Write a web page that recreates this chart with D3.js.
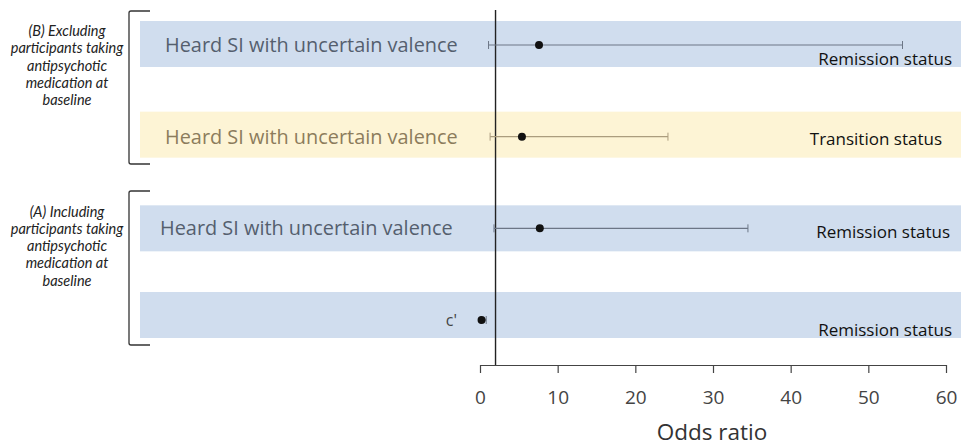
<!DOCTYPE html>
<html><head><meta charset="utf-8">
<script src="https://cdn.jsdelivr.net/npm/d3@7"></script>
<style>
html,body{margin:0;padding:0;background:#fff;}
svg{display:block;}
</style></head>
<body>
<svg id="chart" width="961" height="448"></svg>
<script>
// ---- data ----
const rowLabels = ["Heard SI with uncertain valence", "Heard SI with uncertain valence", "Heard SI with uncertain valence", "c'"];
const statusLabels = ["Remission status", "Transition status", "Remission status", "Remission status"];
const bandTypes = ["blue", "yellow", "blue", "blue"];
const oddsRatio = [7.6, 5.4, 7.7, 0.2];
const ciLower = [1.1, 1.3, 1.8, 0.1];
const ciUpper = [54.4, 24.2, 34.5, 0.8];
const groupLabels = [
  ["(B) Excluding", "participants taking", "antipsychotic", "medication at", "baseline"],
  ["(A) Including", "participants taking", "antipsychotic", "medication at", "baseline"]
];
const xTicks = [0, 10, 20, 30, 40, 50, 60];
const referenceValue = 2;
const axisTitle = "Odds ratio";

// ---- layout / style ----
const W = 961, H = 448;
const svg = d3.select("#chart");
const x = d3.scaleLinear().domain([0, 60]).range([480, 946]);
const y = d3.scalePoint().domain(d3.range(rowLabels.length)).range([45, 320]);
const bandHalf = 23;
const bandFill = {blue: "#d0ddee", yellow: "#fdf4d5"};
const labelFill = {blue: "#555f6e", yellow: "#8c7c5c"};
const ciStroke = {blue: "#6c7686", yellow: "#ab9d7e"};
const labelX = [165, 165, 160, 457];
const statusDy = [14, 2, 4, 10];
const statusX = [952, 942, 950, 952];
const bandDy = [-1, -2, 0, -5];

const mainFont = "'Open Sans', 'Noto Sans', sans-serif";

// bands
svg.append("g").selectAll("rect").data(rowLabels).join("rect")
  .attr("x", 140).attr("width", W - 140)
  .attr("y", (d, i) => y(i) - bandHalf + bandDy[i])
  .attr("height", bandHalf * 2)
  .attr("fill", (d, i) => bandFill[bandTypes[i]]);

// row labels
svg.append("g").selectAll("text").data(rowLabels).join("text")
  .attr("x", (d, i) => labelX[i])
  .attr("y", (d, i) => y(i))
  .attr("dy", "0.35em")
  .attr("text-anchor", (d, i) => i === 3 ? "end" : "start")
  .attr("font-family", mainFont)
  .attr("font-size", (d, i) => i === 3 ? 16 : 19.9)
  .attr("fill", (d, i) => i === 3 ? "#444" : labelFill[bandTypes[i]])
  .text(d => d);

// status labels
svg.append("g").selectAll("text").data(statusLabels).join("text")
  .attr("x", (d, i) => statusX[i])
  .attr("y", (d, i) => y(i) + statusDy[i])
  .attr("dy", "0.35em")
  .attr("text-anchor", "end")
  .attr("font-family", mainFont)
  .attr("font-size", 17)
  .attr("fill", "#111")
  .text(d => d);

// reference line
svg.append("line")
  .attr("x1", x(referenceValue)).attr("x2", x(referenceValue))
  .attr("y1", 10).attr("y2", 365)
  .attr("stroke", "#222").attr("stroke-width", 1.4);

// CIs
const ci = svg.append("g").selectAll("g").data(oddsRatio).join("g");
ci.append("line")
  .attr("x1", (d, i) => x(ciLower[i])).attr("x2", (d, i) => x(ciUpper[i]))
  .attr("y1", (d, i) => y(i)).attr("y2", (d, i) => y(i))
  .attr("stroke", (d, i) => ciStroke[bandTypes[i]]).attr("stroke-width", 1.2);
ci.append("line")
  .attr("x1", (d, i) => x(ciLower[i])).attr("x2", (d, i) => x(ciLower[i]))
  .attr("y1", (d, i) => y(i) - 4).attr("y2", (d, i) => y(i) + 4)
  .attr("stroke", (d, i) => ciStroke[bandTypes[i]]).attr("stroke-width", 1);
ci.append("line")
  .attr("x1", (d, i) => x(ciUpper[i])).attr("x2", (d, i) => x(ciUpper[i]))
  .attr("y1", (d, i) => y(i) - 4).attr("y2", (d, i) => y(i) + 4)
  .attr("stroke", (d, i) => ciStroke[bandTypes[i]]).attr("stroke-width", 1);
ci.append("circle")
  .attr("cx", (d) => x(d)).attr("cy", (d, i) => y(i))
  .attr("r", 4).attr("fill", "#111");

// axis
const axis = svg.append("g").attr("transform", "translate(0,365)")
  .call(d3.axisBottom(x).tickValues(xTicks).tickSize(8).tickPadding(18).tickSizeOuter(0));
axis.select(".domain").attr("stroke", "#444").attr("stroke-width", 1.2);
axis.selectAll(".tick line").attr("stroke", "#444").attr("stroke-width", 1.2);
axis.selectAll(".tick text").attr("font-family", mainFont).attr("font-size", 19).attr("fill", "#444");
svg.append("text").attr("x", (x(0) + x(60)) / 2 - 1).attr("y", 440)
  .attr("text-anchor", "middle").attr("font-family", mainFont).attr("font-size", 22.5).attr("fill", "#333")
  .text(axisTitle);

// group brackets and labels
const groupTop = [11, 191], groupBottom = [164, 345];
groupLabels.forEach((lines, g) => {
  const top = groupTop[g], bot = groupBottom[g];
  svg.append("path")
    .attr("d", `M150,${top} H131 Q129,${top} 129,${top + 2} V${bot - 2} Q129,${bot} 131,${bot} H150`)
    .attr("fill", "none").attr("stroke", "#333").attr("stroke-width", 1.3);
  const center = (top + bot) / 2;
  const t = svg.append("text").attr("text-anchor", "middle")
    .attr("font-family", "Lato, 'DejaVu Sans', sans-serif").attr("font-style", "italic")
    .attr("font-size", 14.5).attr("fill", "#222");
  lines.forEach((ln, k) => {
    t.append("tspan").attr("x", 67).attr("y", center - 56.5 + k * 17.3).attr("dy", "0.35em").text(ln);
  });
});
</script>
</body></html>
